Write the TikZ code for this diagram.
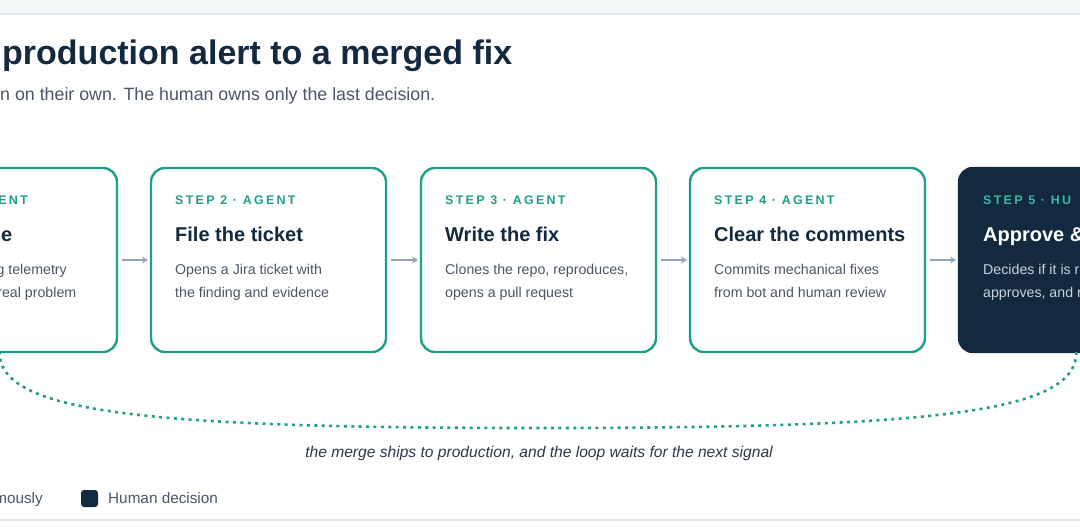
\documentclass[tikz,border=0pt]{standalone}
\usepackage{fontspec}
\setmainfont{Liberation Sans}
\newfontfamily\labelfont{Liberation Sans}[LetterSpace=18]
\usetikzlibrary{arrows.meta,positioning,calc}

\definecolor{navy}{HTML}{12293F}
\definecolor{stepteal}{HTML}{1F9E88}
\definecolor{humanteal}{HTML}{3BB89E}
\definecolor{descgray}{HTML}{4B5563}
\definecolor{humandesc}{HTML}{C9D3DE}
\definecolor{subgray}{HTML}{4A5568}
\definecolor{notegray}{HTML}{2D3748}
\definecolor{arrowgray}{HTML}{94A3B8}
\definecolor{rulegray}{HTML}{E3E8EE}
\definecolor{bandgray}{HTML}{F5F8F9}

\tikzset{
    stepbox/.style={draw=stepteal, line width=2.4pt, rounded corners=14pt, minimum width=235pt, minimum height=184pt, inner sep=0pt, outer sep=0pt, anchor=north west},
    humanbox/.style={stepbox, draw=navy, fill=navy},
    steplabel/.style={anchor=base west, inner sep=0pt, text=stepteal, font=\labelfont\bfseries\fontsize{12.5}{15}\selectfont},
    steptitle/.style={anchor=base west, inner sep=0pt, text=navy, font=\bfseries\fontsize{20}{24}\selectfont},
    stepdesc/.style={anchor=base west, inner sep=0pt, text=descgray, font=\fontsize{14.2}{17}\selectfont},
    flowarrow/.style={draw=arrowgray, line width=2pt, -{Stealth[length=6pt,width=7pt]}, shorten <=5pt, shorten >=3pt},
    loopline/.style={draw=stepteal, line width=2.6pt, dash pattern=on 3pt off 4.4pt},
    legendtext/.style={inner sep=0pt, text=subgray, font=\fontsize{15.3}{18}\selectfont},
}

\begin{document}
\begin{tikzpicture}[x=1pt, y=-1pt]
    \useasboundingbox (0,0) rectangle (1080,528);
    \clip (0,0) rectangle (1080,528);

    % header band and rules
    \fill[bandgray] (0,0) rectangle (1080,13);
    \draw[rulegray, line width=2pt] (0,14) -- (1080,14);
    \draw[rulegray, line width=2pt] (0,520) -- (1080,520);

    \node[anchor=base west, inner sep=0pt, text=navy, font=\bfseries\fontsize{34}{40}\selectfont] (headline) at (2,64) {production alert to a merged fix};
    \node[anchor=base west, inner sep=0pt, text=subgray, font=\fontsize{17.8}{21}\selectfont] (subline) at (0,100) {n on their own. The human owns only the last decision.};

    % the five step cards
    \node[stepbox] (s1) at (-118,168) {};
    \node[stepbox] (s2) at (151,168) {};
    \node[stepbox] (s3) at (421,168) {};
    \node[stepbox] (s4) at (690,168) {};
    \node[humanbox] (s5) at (959,168) {};

    \node[steplabel, anchor=base east] (s1lab) at (28,204.3) {ENT};
    \node[steptitle, anchor=base east] (s1ttl) at (12.5,241.7) {e};
    \node[stepdesc, anchor=base east] (s1da) at (67,274.3) {g telemetry};
    \node[stepdesc, anchor=base east] (s1db) at (76.5,297.7) {real problem};

    \node[steplabel] (s2lab) at ($(s2.north west)+(24,36.3)$) {STEP 2 · AGENT};
    \node[steptitle] (s2ttl) at ($(s2.north west)+(24,73.7)$) {File the ticket};
    \node[stepdesc] (s2da) at ($(s2.north west)+(24,106.3)$) {Opens a Jira ticket with};
    \node[stepdesc] (s2db) at ($(s2.north west)+(24,129.7)$) {the finding and evidence};

    \node[steplabel] (s3lab) at ($(s3.north west)+(24,36.3)$) {STEP 3 · AGENT};
    \node[steptitle] (s3ttl) at ($(s3.north west)+(24,73.7)$) {Write the fix};
    \node[stepdesc] (s3da) at ($(s3.north west)+(24,106.3)$) {Clones the repo, reproduces,};
    \node[stepdesc] (s3db) at ($(s3.north west)+(24,129.7)$) {opens a pull request};

    \node[steplabel] (s4lab) at ($(s4.north west)+(24,36.3)$) {STEP 4 · AGENT};
    \node[steptitle] (s4ttl) at ($(s4.north west)+(24,73.7)$) {Clear the comments};
    \node[stepdesc] (s4da) at ($(s4.north west)+(24,106.3)$) {Commits mechanical fixes};
    \node[stepdesc] (s4db) at ($(s4.north west)+(24,129.7)$) {from bot and human review};

    \node[steplabel, text=humanteal] (s5lab) at ($(s5.north west)+(24,36.3)$) {STEP 5 · HU};
    \node[steptitle, text=white] (s5ttl) at ($(s5.north west)+(24,73.7)$) {Approve \&};
    \node[stepdesc, text=humandesc] (s5da) at ($(s5.north west)+(24,106.3)$) {Decides if it is r};
    \node[stepdesc, text=humandesc] (s5db) at ($(s5.north west)+(24,129.7)$) {approves, and r};

    % hand-offs
    \draw[flowarrow] (s1) -- (s2);
    \draw[flowarrow] (s2) -- (s3);
    \draw[flowarrow] (s3) -- (s4);
    \draw[flowarrow] (s4) -- (s5);

    % loop back
    \coordinate (looplow) at (539,428);
    \draw[loopline] (s5.south) .. controls +(0,60) and +(400,0) .. (looplow) .. controls +(-400,0) and +(0,60) .. (s1.south);
    \node[anchor=base, inner sep=0pt, text=notegray, font=\itshape\fontsize{15.6}{18}\selectfont] (loopnote) at (539,457) {the merge ships to production, and the loop waits for the next signal};

    % legend
    \node[legendtext, anchor=base east] (keyagent) at (43,503.5) {mously};
    \node[fill=navy, rounded corners=3pt, minimum size=17pt, inner sep=0pt] (keybox) at (89.5,498.5) {};
    \node[legendtext, anchor=base west] (keyhuman) at (108,503.5) {Human decision};

\end{tikzpicture}
\end{document}
